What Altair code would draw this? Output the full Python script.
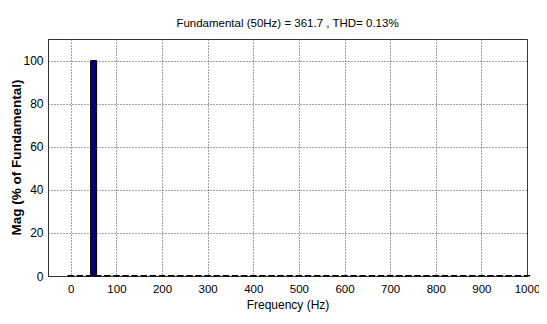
import altair as alt
import pandas as pd

freqs = [0, 20, 40, 50, 60, 80, 100, 120, 140, 160, 180, 200, 220, 240, 260, 280,
         300, 320, 340, 360, 380, 400, 420, 440, 460, 480, 500, 520, 540, 560,
         580, 600, 620, 640, 660, 680, 700, 720, 740, 760, 780, 800, 820, 840,
         860, 880, 900, 920, 940, 960, 980, 1000]
mags = [0.2, 0.2, 0.2, 100.0, 0.2, 0.2, 0.2, 0.2, 0.2, 0.2, 0.2, 0.2, 0.2, 0.2, 0.2, 0.2,
        0.2, 0.2, 0.2, 0.2, 0.2, 0.2, 0.2, 0.2, 0.2, 0.2, 0.2, 0.2, 0.2, 0.2,
        0.2, 0.2, 0.2, 0.2, 0.2, 0.2, 0.2, 0.2, 0.2, 0.2, 0.2, 0.2, 0.2, 0.2,
        0.2, 0.2, 0.2, 0.2, 0.2, 0.2, 0.2, 0.2]
x_ticks = [0, 100, 200, 300, 400, 500, 600, 700, 800, 900, 1000]
y_ticks = [0, 20, 40, 60, 80, 100]
title_text = "Fundamental (50Hz) = 361.7 , THD= 0.13%"

df = pd.DataFrame({"f": freqs, "m": mags})
df["main"] = df["m"] > 50

font = "Liberation Sans, Arial"

base = alt.Chart(df)

bars = base.mark_bar(size=6, stroke="black", strokeWidth=1).encode(
    x=alt.X("f:Q", scale=alt.Scale(domain=[-50, 1000], nice=False, zero=False, padding=0),
            axis=alt.Axis(values=x_ticks, format="d", title="Frequency (Hz)", grid=True,
                          gridDash=[1, 2], gridColor="#444444", gridOpacity=1,
                          ticks=False, labelFont=font, labelFontSize=11.5,
                          labelColor="black", labelPadding=7,
                          titleFont=font, titleFontSize=12, titleFontWeight="normal",
                          titleColor="black", titlePadding=5,
                          domainColor="#333333", labelFlush=False)),
    y=alt.Y("m:Q", scale=alt.Scale(domain=[0, 110], nice=False, padding=0),
            axis=alt.Axis(values=y_ticks, title="Mag (% of Fundamental)", grid=True,
                          gridDash=[1, 2], gridColor="#444444", gridOpacity=1,
                          ticks=False, labelFont=font, labelFontSize=12,
                          labelColor="black", labelPadding=5,
                          titleFont=font, titleFontSize=13.5,
                          titleFontWeight="bold", titleColor="black",
                          titleX=-32, titleY=118, titleAngle=270,
                          titleAlign="center", titleBaseline="middle",
                          domainColor="#333333")),
    color=alt.Color("main:N", scale=alt.Scale(domain=[True, False],
                                              range=["#000080", "black"]), legend=None),
)

chart = bars.properties(
    width=479, height=237,
    title=alt.TitleParams(title_text, font=font, fontSize=11.5, fontWeight="normal",
                          color="black", anchor="middle", offset=10),
    autosize=alt.AutoSizeParams(type="none"),
    padding={"left": 40, "top": 31, "right": 12, "bottom": 40},
).configure_view(stroke="#333333", strokeWidth=1)

chart.save("out.html", embed_options={"renderer": "svg", "actions": False})
